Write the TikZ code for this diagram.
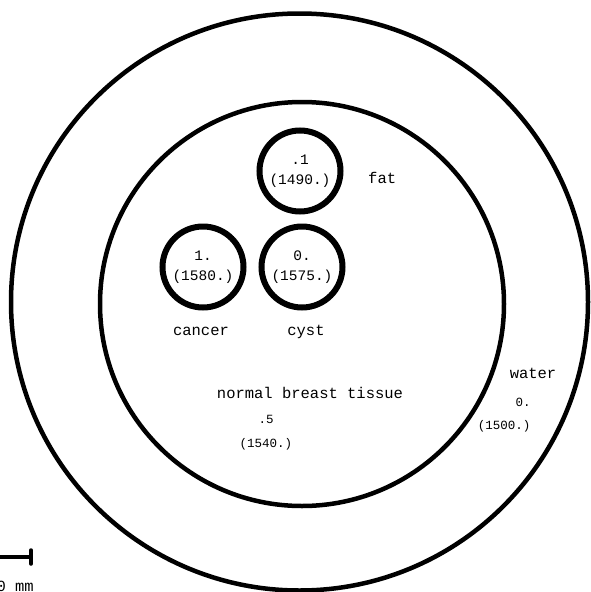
\documentclass[tikz,border=0pt]{standalone}
\usepackage{fontspec}
\setmonofont{Liberation Mono}
\usepackage{tikz}
\usetikzlibrary{positioning}

\begin{document}
\begin{tikzpicture}[
  x=1pt, y=-1pt,
  ring/.style={draw, circle, line width=4.5pt, inner sep=0pt, minimum size=#1},
  blob/.style={draw, circle, line width=6pt, inner sep=0pt, minimum size=81pt,
    align=center, font=\ttfamily\fontsize{14.5}{20}\selectfont},
  lbl/.style={anchor=base, inner sep=0pt, font=\ttfamily\fontsize{15.5}{18}\selectfont},
  val/.style={anchor=base, inner sep=0pt, font=\ttfamily\fontsize{12.5}{15}\selectfont},
  bar/.style={line width=4pt},
  tick/.style={line width=3.5pt, line cap=round}
]
  \useasboundingbox (0,0) rectangle (590,592);

  % Water bath and breast
  \node[ring=577pt] (water) at (299.5,302) {};
  \node[ring=404pt] (breast) at (302,304) {};

  % Inclusions
  \foreach \n/\x/\y/\a/\b in {fat/300/171/.1/{(1490.)},
      cancer/203/267/1./{(1580.)}, cyst/302/267/0./{(1575.)}} {
    \node[blob] (\n) at (\x,\y) {\a\\\b};
  }

  % Labels
  \node[lbl, anchor=base west] (fatlbl) at (368,183) {fat};
  \node[lbl] (cancerlbl) at (201,335) {cancer};
  \node[lbl] (cystlbl) at (306,335) {cyst};
  \node[lbl] (tissuelbl) at (310,398) {normal breast tissue};
  \node[val] (tissuea) at (266,423) {.5};
  \node[val] (tissueb) at (266,447) {(1540.)};
  \node[lbl] (waterlbl) at (533,378) {water};
  \node[val] (watera) at (523,406) {0.};
  \node[val] (waterb) at (504,429) {(1500.)};

  % Scale bar
  \coordinate (bar0) at (-5,557);
  \coordinate (bar1) at (31,557);
  \draw[bar] (bar0) -- (bar1);
  \draw[tick] ([yshift=7pt]bar1) -- ([yshift=-7pt]bar1);
  \node[lbl, anchor=base east] (barlbl) at (34,591) {0 mm};
\end{tikzpicture}
\end{document}
